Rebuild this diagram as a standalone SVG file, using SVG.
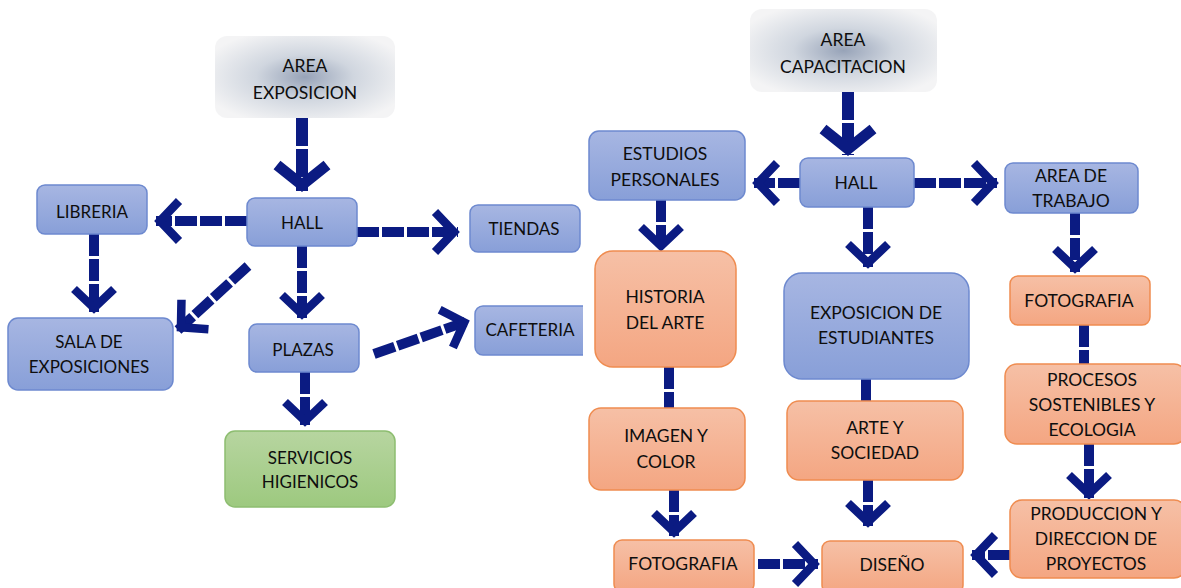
<svg xmlns="http://www.w3.org/2000/svg" width="1181" height="588" viewBox="0 0 1181 588">
<defs>
<linearGradient id="gBlue" x1="0" y1="0" x2="0" y2="1"><stop offset="0" stop-color="#a7b6e2"/><stop offset="1" stop-color="#889fd8"/></linearGradient>
<linearGradient id="gOrange" x1="0" y1="0" x2="0" y2="1"><stop offset="0" stop-color="#f6c0a6"/><stop offset="1" stop-color="#f4a682"/></linearGradient>
<linearGradient id="gGreen" x1="0" y1="0" x2="0" y2="1"><stop offset="0" stop-color="#b7d5a0"/><stop offset="1" stop-color="#9dc97f"/></linearGradient>
<radialGradient id="gGray" cx="0.5" cy="0.5" r="0.6"><stop offset="0" stop-color="#97a3b8"/><stop offset="0.45" stop-color="#d0d6df"/><stop offset="1" stop-color="#f4f4f5"/></radialGradient>
<marker id="head" markerUnits="userSpaceOnUse" viewBox="0 0 44 50" markerWidth="44" markerHeight="50" refX="35" refY="25" orient="auto" overflow="visible">
<path d="M12,5 L31,25 L12,45" fill="none" stroke="#0b1b82" stroke-width="8.5"/>
</marker>
<marker id="headL" markerUnits="userSpaceOnUse" viewBox="0 0 50 60" markerWidth="50" markerHeight="60" refX="40" refY="30" orient="auto" overflow="visible">
<path d="M14,5 L34,30 L14,55" fill="none" stroke="#0b1b82" stroke-width="11"/>
</marker>
<clipPath id="clipR"><rect x="0" y="0" width="583" height="588"/></clipPath>
</defs>
<style>
.blue{fill:url(#gBlue);stroke:#6d89cf;stroke-width:1.5}
.orange{fill:url(#gOrange);stroke:#ef8c50;stroke-width:1.5}
.green{fill:url(#gGreen);stroke:#8dbd70;stroke-width:1.5}
.gray{fill:url(#gGray)}
text{font-family:Lato,"Open Sans","Liberation Sans",sans-serif;fill:#0e0e0e;text-anchor:middle}
.l{font-size:17px}
.r{font-size:17.5px}
.c{fill:none;stroke:#0b1b82;stroke-width:10;stroke-dasharray:22 3}
.cs{fill:none;stroke:#0b1b82;stroke-width:12;stroke-dasharray:28 3}
.a{marker-end:url(#head)}
.aL{marker-end:url(#headL)}
</style>
<rect width="1181" height="588" fill="#ffffff"/>

<g id="connectors">
<path class="cs aL" d="M302,118 V191"/>
<path class="c a" d="M247,221 H156"/>
<path class="c a" d="M357,232 H458"/>
<path class="c a" d="M302,246 V318"/>
<path class="c a" d="M94,234 V312"/>
<path class="c a" d="M248,266 L178,330"/>
<path class="c a" d="M305,372 V425"/>
<path class="c a" d="M374,354 L468,321"/>

<path class="cs aL" d="M848,92 V155"/>
<path class="c a" d="M800,183 H754"/>
<path class="c a" d="M914,183 H997"/>
<path class="c a" d="M868,207 V267"/>
<path class="c a" d="M661,200 V250"/>
<path class="c a" d="M1075,213 V272"/>
<path class="c" d="M669,367 V408"/>
<path class="c" d="M866,379 V401"/>
<path class="c" d="M1084,325 V364"/>
<path class="c a" d="M674,490 V536"/>
<path class="c a" d="M868,480 V526"/>
<path class="c a" d="M1089,444 V498"/>
<path class="c a" d="M758,564 H818"/>
<path class="c a" d="M1010,555 H972"/>
</g>

<g id="area-exposicion"><rect class="gray" x="215" y="36" width="180" height="82" rx="12"/><text class="r" x="305" y="72">AREA</text><text class="r" x="305" y="99">EXPOSICION</text></g>
<g id="hall-left"><rect class="blue" x="247" y="198" width="110" height="48" rx="8"/><text class="l" x="302" y="229">HALL</text></g>
<g id="libreria"><rect class="blue" x="37" y="185" width="110" height="49" rx="8"/><text class="l" x="92" y="218">LIBRERIA</text></g>
<g id="tiendas"><rect class="blue" x="470" y="205" width="110" height="47" rx="8"/><text class="l" x="524" y="235">TIENDAS</text></g>
<g id="sala"><rect class="blue" x="8" y="318" width="165" height="72" rx="10"/><text class="l" x="89" y="348">SALA DE</text><text class="l" x="89" y="373">EXPOSICIONES</text></g>
<g id="plazas"><rect class="blue" x="249" y="324" width="110" height="48" rx="8"/><text class="l" x="303" y="356">PLAZAS</text></g>
<g id="cafeteria"><rect class="blue" x="475" y="306" width="120" height="49" rx="8" clip-path="url(#clipR)"/><text class="l" x="530" y="336">CAFETERIA</text></g>
<g id="servicios"><rect class="green" x="225" y="431" width="170" height="76" rx="10"/><text class="l" x="310" y="464">SERVICIOS</text><text class="l" x="310" y="488">HIGIENICOS</text></g>

<g id="area-capacitacion"><rect class="gray" x="750" y="9" width="187" height="83" rx="12"/><text class="r" x="843" y="46">AREA</text><text class="r" x="843" y="73">CAPACITACION</text></g>
<g id="estudios"><rect class="blue" x="589" y="131" width="156" height="69" rx="10"/><text class="r" x="665" y="160">ESTUDIOS</text><text class="r" x="665" y="186">PERSONALES</text></g>
<g id="hall-right"><rect class="blue" x="800" y="158" width="114" height="49" rx="8"/><text class="r" x="856" y="189">HALL</text></g>
<g id="area-trabajo"><rect class="blue" x="1005" y="163" width="133" height="50" rx="8"/><text class="r" x="1071" y="182">AREA DE</text><text class="r" x="1071" y="207">TRABAJO</text></g>
<g id="historia"><rect class="orange" x="595" y="251" width="141" height="116" rx="18"/><text class="r" x="665" y="303">HISTORIA</text><text class="r" x="665" y="329">DEL ARTE</text></g>
<g id="exposicion-estudiantes"><rect class="blue" x="784" y="273" width="185" height="106" rx="18"/><text class="r" x="876" y="319">EXPOSICION DE</text><text class="r" x="876" y="344">ESTUDIANTES</text></g>
<g id="fotografia-right"><rect class="orange" x="1010" y="276" width="140" height="49" rx="8"/><text class="r" x="1079" y="307">FOTOGRAFIA</text></g>
<g id="procesos"><rect class="orange" x="1005" y="364" width="181" height="80" rx="12"/><text class="r" x="1092" y="386">PROCESOS</text><text class="r" x="1092" y="411">SOSTENIBLES Y</text><text class="r" x="1092" y="436">ECOLOGIA</text></g>
<g id="imagen"><rect class="orange" x="589" y="408" width="156" height="82" rx="12"/><text class="r" x="666" y="442">IMAGEN Y</text><text class="r" x="666" y="468">COLOR</text></g>
<g id="arte-sociedad"><rect class="orange" x="787" y="401" width="176" height="79" rx="12"/><text class="r" x="875" y="434">ARTE Y</text><text class="r" x="875" y="459">SOCIEDAD</text></g>
<g id="produccion"><rect class="orange" x="1010" y="500" width="176" height="78" rx="12"/><text class="r" x="1096" y="520">PRODUCCION Y</text><text class="r" x="1096" y="545">DIRECCION DE</text><text class="r" x="1096" y="570">PROYECTOS</text></g>
<g id="fotografia-bottom"><rect class="orange" x="614" y="540" width="140" height="52" rx="8"/><text class="r" x="683" y="570">FOTOGRAFIA</text></g>
<g id="diseno"><rect class="orange" x="822" y="541" width="141" height="52" rx="8"/><text class="r" x="892" y="571">DISEÑO</text></g>
</svg>
